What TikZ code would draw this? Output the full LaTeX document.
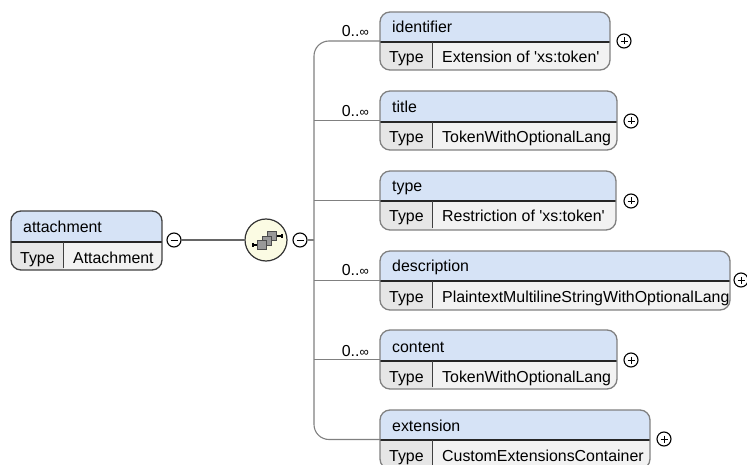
\documentclass[tikz,border=0pt]{standalone}
\usepackage{fontspec}
\newfontfamily\plainf{Liberation Sans}
\setmainfont{Liberation Sans}
\definecolor{hdr}{HTML}{D6E3F6}
\definecolor{typecell}{HTML}{E6E6E6}
\definecolor{valcell}{HTML}{F2F2F2}
\definecolor{edge}{HTML}{808080}
\definecolor{compfill}{HTML}{FBFBE3}
\definecolor{sq}{HTML}{999999}
\tikzset{
  elem/.style={draw=edge,line width=1.3pt,rounded corners=10pt,anchor=north west,inner sep=0pt,outer sep=0pt},
  lbl/.style={anchor=base west,inner sep=0pt,font=\plainf\fontsize{15.9}{18}\selectfont,text=black},
  occ/.style={anchor=base east,inner sep=0pt,font=\plainf\fontsize{15.9}{18}\selectfont,text=black},
  tog/.style={circle,draw=black,line width=1.1pt,fill=white,minimum size=14pt,inner sep=0pt,outer sep=0pt},
  conn/.style={draw=edge,line width=1.1pt},
  sqbox/.style={draw=black!70,fill=sq,line width=.8pt}
}
% name, x1, y1, x2, y2, ydiv, title, type, edge colour
\newcommand{\elembox}[9]{%
  \pgfmathsetmacro{\boxw}{#4-#2}\pgfmathsetmacro{\boxh}{#5-#3}%
  \begin{scope}
    \clip[rounded corners=10pt] (#2,#3) rectangle (#4,#5);
    \fill[valcell] (#2,#3) rectangle (#4,#5);
    \fill[hdr] (#2,#3) rectangle (#4,#6);
    \fill[typecell] (#2,#6) rectangle (#2+52.5,#5);
    \draw[black!85,line width=1.2pt] (#2,#6) -- (#4,#6);
    \draw[black!75,line width=1.2pt] (#2+52.5,#6) -- (#2+52.5,#5-2);
  \end{scope}
  \node[elem,draw=#9,minimum width=\boxw pt,minimum height=\boxh pt] (#1) at (#2,#3) {};
  \node[lbl] (#1-name) at (#2+12,#6-9) {#7};
  \node[lbl] (#1-key) at (#2+9,#6+21) {Type};
  \node[lbl] (#1-val) at (#2+62,#6+21) {#8};
}
\newcommand{\pluss}[3]{\node[tog] (#1) at (#2,#3) {};
  \draw[black,line width=.9pt] (#2-3.5,#3) -- (#2+3.5,#3) (#2,#3-3.5) -- (#2,#3+3.5);}
\newcommand{\minuss}[3]{\node[tog] (#1) at (#2,#3) {};
  \draw[black,line width=.9pt] (#2-3.5,#3) -- (#2+3.5,#3);}
\begin{document}
\begin{tikzpicture}[x=1pt,y=-1pt]
\useasboundingbox (0,0) rectangle (747,465);
\clip (0,0) rectangle (747,465);
% main connector
\elembox{att}{11}{211}{162}{270}{242}{attachment}{Attachment}{black!75}
\minuss{m1}{174}{240}
\minuss{m2}{300}{240}
\node[circle,draw=black!80,line width=1.2pt,fill=compfill,minimum size=42pt,inner sep=0pt,outer sep=0pt] (comp) at (266,240) {};
\draw[draw=black!60,line width=2.6pt] (m1) -- (comp);
\coordinate (sp) at (314,240);
% children
\elembox{id}{380}{12}{610}{70}{42}{identifier}{Extension of 'xs:token'}{edge}
\elembox{ti}{380}{91}{617}{150}{122}{title}{TokenWithOptionalLang}{edge}
\elembox{ty}{380}{171}{616}{230}{201}{type}{Restriction of 'xs:token'}{edge}
\elembox{de}{380}{251}{730}{310}{281}{description}{PlaintextMultilineStringWithOptionalLang}{edge}
\elembox{co}{380}{330}{617}{389}{361}{content}{TokenWithOptionalLang}{edge}
\elembox{ex}{380}{410}{650}{469}{440}{extension}{CustomExtensionsContainer}{edge}
\pluss{p1}{624}{41}
\pluss{p2}{631}{121}
\pluss{p3}{631}{201}
\pluss{p4}{741}{280}
\pluss{p5}{631}{360}
\pluss{p6}{664}{439}
% spine
\draw[conn,rounded corners=15pt] (id.west) -| (sp) |- (ex.west);
\draw[conn] (m2) -- (sp);
\draw[conn] (ti.west) -- (ti.west -| sp);
\draw[conn] (ty.west) -- (ty.west -| sp);
\draw[conn] (de.west) -- (de.west -| sp);
\draw[conn] (co.west) -- (co.west -| sp);
% occurrence labels
\foreach \n/\y in {o1/37,o2/117,o4/276,o5/356}{
  \node[occ] (\n) at (369,\y) {0..{\fontsize{13}{13}\selectfont ∞}};
}
% compositor icon
\draw[black,line width=1.5pt] (254,245) -- (258,245) (276,236) -- (282,236);
\draw[black,line width=1.5pt] (253,243) -- (253,247) (282,234) -- (282,238);
\draw[sqbox] (267,231) rectangle (276,240);
\draw[sqbox] (262,236) rectangle (271,245);
\draw[sqbox] (257,240) rectangle (266,249);
\end{tikzpicture}
\end{document}
